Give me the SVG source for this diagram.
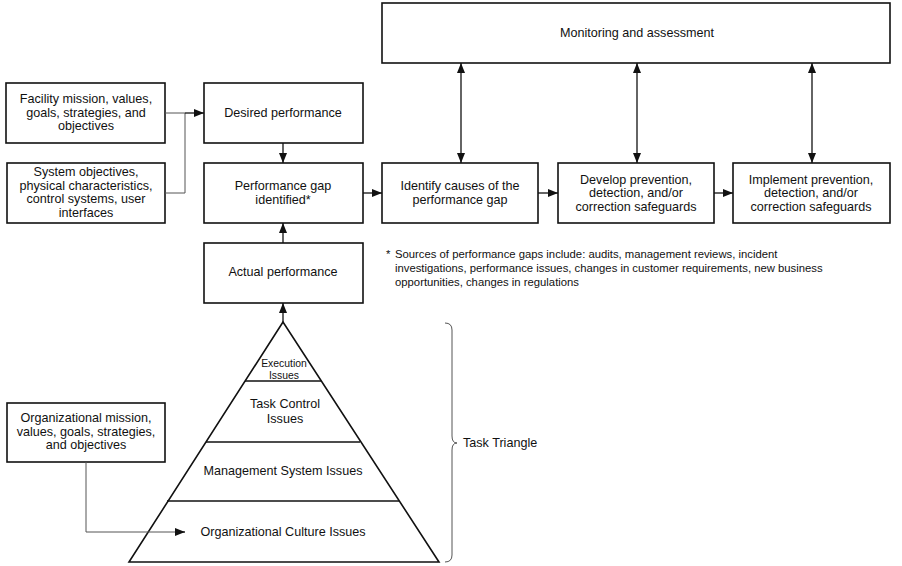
<svg xmlns="http://www.w3.org/2000/svg" width="902" height="566" viewBox="0 0 902 566">
  <style>
    .box { fill: #fff; stroke: #111; stroke-width: 1.6; }
    .t { font-family: "Liberation Sans", Arial, sans-serif; font-size: 12.6px; fill: #111; text-anchor: middle; dominant-baseline: central; }
    .sm { font-size: 10.4px; }
    .note { font-family: "Liberation Sans", Arial, sans-serif; font-size: 11.3px; fill: #111; }
    .conn { fill: none; stroke: #111; stroke-width: 1.3; }
    .thin { fill: none; stroke: #555; stroke-width: 1; }
    .tri { fill: #fff; stroke: #111; stroke-width: 1.6; }
    .div { stroke: #111; stroke-width: 1.4; }
  </style>
  <defs>
    <marker id="ah" viewBox="0 0 10 8" refX="10" refY="4" markerWidth="10" markerHeight="8" markerUnits="userSpaceOnUse" orient="auto-start-reverse">
      <path d="M0,0 L10,4 L0,8 z" fill="#111"/>
    </marker>
  </defs>
  <rect width="902" height="566" fill="#fff"/>

  <g id="monitoring">
    <rect class="box" x="382" y="3" width="508" height="60"/>
    <text class="t" x="637" y="33">Monitoring and assessment</text>
  </g>

  <g id="facility">
    <rect class="box" x="6" y="83" width="159" height="60"/>
    <text class="t" x="86" y="99">Facility mission, values,</text>
    <text class="t" x="86" y="112.5">goals, strategies, and</text>
    <text class="t" x="86" y="126">objectives</text>
  </g>

  <g id="system">
    <rect class="box" x="7" y="163" width="158" height="60"/>
    <text class="t" x="86" y="172">System objectives,</text>
    <text class="t" x="86" y="185.5">physical characteristics,</text>
    <text class="t" x="86" y="199">control systems, user</text>
    <text class="t" x="86" y="212.5">interfaces</text>
  </g>

  <g id="desired">
    <rect class="box" x="204" y="83" width="159" height="60"/>
    <text class="t" x="283" y="113">Desired performance</text>
  </g>

  <g id="gap">
    <rect class="box" x="204" y="163" width="159" height="60"/>
    <text class="t" x="283" y="186">Performance gap</text>
    <text class="t" x="283" y="199.5">identified*</text>
  </g>

  <g id="actual">
    <rect class="box" x="204" y="243" width="159" height="60"/>
    <text class="t" x="283" y="272">Actual performance</text>
  </g>

  <g id="identify">
    <rect class="box" x="382" y="163" width="156" height="60"/>
    <text class="t" x="460" y="186">Identify causes of the</text>
    <text class="t" x="460" y="199.5">performance gap</text>
  </g>

  <g id="develop">
    <rect class="box" x="558" y="163" width="156" height="60"/>
    <text class="t" x="636" y="179.5">Develop prevention,</text>
    <text class="t" x="636" y="193">detection, and/or</text>
    <text class="t" x="636" y="206.5">correction safeguards</text>
  </g>

  <g id="implement">
    <rect class="box" x="733" y="163" width="157" height="60"/>
    <text class="t" x="811" y="179.5">Implement prevention,</text>
    <text class="t" x="811" y="193">detection, and/or</text>
    <text class="t" x="811" y="206.5">correction safeguards</text>
  </g>

  <g id="footnote">
    <text class="note" x="386" y="258">*</text>
    <text class="note" x="395" y="258">Sources of performance gaps include: audits, management reviews, incident</text>
    <text class="note" x="395" y="272">investigations, performance issues, changes in customer requirements, new business</text>
    <text class="note" x="395" y="286">opportunities, changes in regulations</text>
  </g>

  <g id="organizational">
    <rect class="box" x="7" y="403" width="158" height="59"/>
    <text class="t" x="86" y="418">Organizational mission,</text>
    <text class="t" x="86" y="431.5">values, goals, strategies,</text>
    <text class="t" x="86" y="445">and objectives</text>
  </g>

  <g id="task-triangle">
    <polygon class="tri" points="283,322 129,562 439,562"/>
    <line class="div" x1="245" y1="381" x2="321" y2="381"/>
    <line class="div" x1="206" y1="442" x2="360" y2="442"/>
    <line class="div" x1="167" y1="501" x2="399" y2="501"/>
    <text class="t sm" x="284" y="363">Execution</text>
    <text class="t sm" x="284" y="375">Issues</text>
    <text class="t" x="285" y="404">Task Control</text>
    <text class="t" x="285" y="419">Issues</text>
    <text class="t" x="283" y="471">Management System Issues</text>
    <text class="t" x="283" y="532">Organizational Culture Issues</text>
  </g>

  <g id="brace">
    <path class="thin" d="M445,323 Q452,323 452,330 L452,436 Q452,443 457,443 Q452,443 452,450 L452,555 Q452,562 445,562"/>
    <text class="t" x="463" y="443" style="text-anchor:start">Task Triangle</text>
  </g>

  <!-- Connectors, drawn last so the culture arrow shows inside the triangle -->
  <g id="connectors">
    <polyline class="thin" points="165,113 185,113"/>
    <polyline class="thin" points="165,193 185,193 185,113"/>
    <line class="conn" x1="185" y1="113" x2="204" y2="113" marker-end="url(#ah)"/>
    <line class="conn" x1="283" y1="143" x2="283" y2="163" marker-end="url(#ah)"/>
    <line class="conn" x1="283" y1="243" x2="283" y2="223" marker-end="url(#ah)"/>
    <line class="conn" x1="283" y1="322" x2="283" y2="303" marker-end="url(#ah)"/>
    <line class="conn" x1="363" y1="193" x2="382" y2="193" marker-end="url(#ah)"/>
    <line class="conn" x1="538" y1="193" x2="558" y2="193" marker-end="url(#ah)"/>
    <line class="conn" x1="714" y1="193" x2="733" y2="193" marker-end="url(#ah)"/>
    <line class="conn" x1="461" y1="63" x2="461" y2="163" marker-start="url(#ah)" marker-end="url(#ah)"/>
    <line class="conn" x1="637" y1="63" x2="637" y2="163" marker-start="url(#ah)" marker-end="url(#ah)"/>
    <line class="conn" x1="812" y1="63" x2="812" y2="163" marker-start="url(#ah)" marker-end="url(#ah)"/>
    <polyline class="thin" points="86,462 86,532 176,532"/>
    <line class="conn" x1="175" y1="532" x2="185" y2="532" marker-end="url(#ah)"/>
  </g>
</svg>
